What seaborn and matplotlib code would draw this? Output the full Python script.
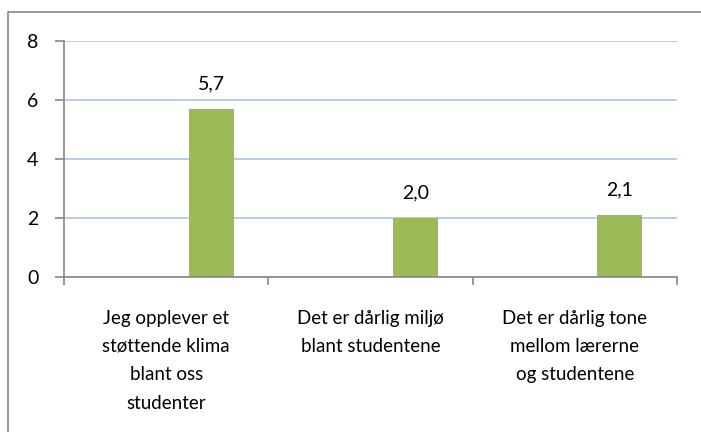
import matplotlib
matplotlib.use("Agg")
import matplotlib.pyplot as plt
import seaborn as sns
import pandas as pd
from matplotlib.lines import Line2D
from matplotlib.ticker import FixedLocator

categories = [
    "Jeg opplever et\nstøttende klima\nblant oss\nstudenter",
    "Det er dårlig miljø\nblant studentene",
    "Det er dårlig tone\nmellom lærerne\nog studentene",
]
values = [5.7, 2.0, 2.1]
series_slots = ["tom1", "tom2", "verdi"]
y_ticks = [0, 2, 4, 6, 8]

sns.set_theme(style="white")
plt.rcParams['font.family'] = ['Lato', 'DejaVu Sans']

df = pd.DataFrame({"kategori": categories, "serie": "verdi", "verdi": values})

W, H = 701, 432
fig = plt.figure(figsize=(W / 100, H / 100), dpi=100)
ax = fig.add_axes([64 / W, 1 - 277 / H, (677 - 64) / W, (277 - 41) / H])

bar_color = "#9bbb59"
sns.barplot(data=df, x="kategori", y="verdi", hue="serie", hue_order=series_slots,
            palette={s: bar_color for s in series_slots}, width=0.66, dodge=True,
            legend=False, ax=ax, saturation=1, edgecolor="none", linewidth=0)

for cont in ax.containers:
    if len(cont) == 0:
        continue
    ax.bar_label(cont, labels=[f"{v:.1f}".replace(".", ",") for v in cont.datavalues],
                 padding=12, fontsize=14, color="black")

ax.set_xlim(-0.5, 2.5)
ax.set_ylim(0, 8)
ax.set_yticks(y_ticks)
ax.set_yticklabels([str(t) for t in y_ticks], fontsize=14, color="black")
ax.yaxis.grid(True, color="#adc4e4", lw=1.2)
ax.set_axisbelow(True)
ax.set_xlabel("")
ax.set_ylabel("")

ax.xaxis.set_minor_locator(FixedLocator([-0.5, 0.5, 1.5, 2.5]))
ax.tick_params(axis="x", which="major", length=0, pad=23.5, labelsize=13.5, labelcolor="black")
ax.tick_params(axis="x", which="minor", length=6, width=1.2, color="#868686", direction="out", bottom=True)
ax.tick_params(axis="y", length=6.5, width=1.2, color="#868686", direction="out", left=True, pad=12)
for lab in ax.get_xticklabels():
    lab.set_linespacing(1.81)
    lab.set_verticalalignment("top")

for side in ["top", "right"]:
    ax.spines[side].set_visible(False)
for side in ["left", "bottom"]:
    ax.spines[side].set_color("#868686")
    ax.spines[side].set_linewidth(1.2)

fig.add_artist(Line2D([8 / W, 8 / W, 1], [0, 1 - 12 / H, 1 - 12 / H],
                      transform=fig.transFigure, color="#868686", lw=1.2))

fig.savefig("out.png", dpi=100)
